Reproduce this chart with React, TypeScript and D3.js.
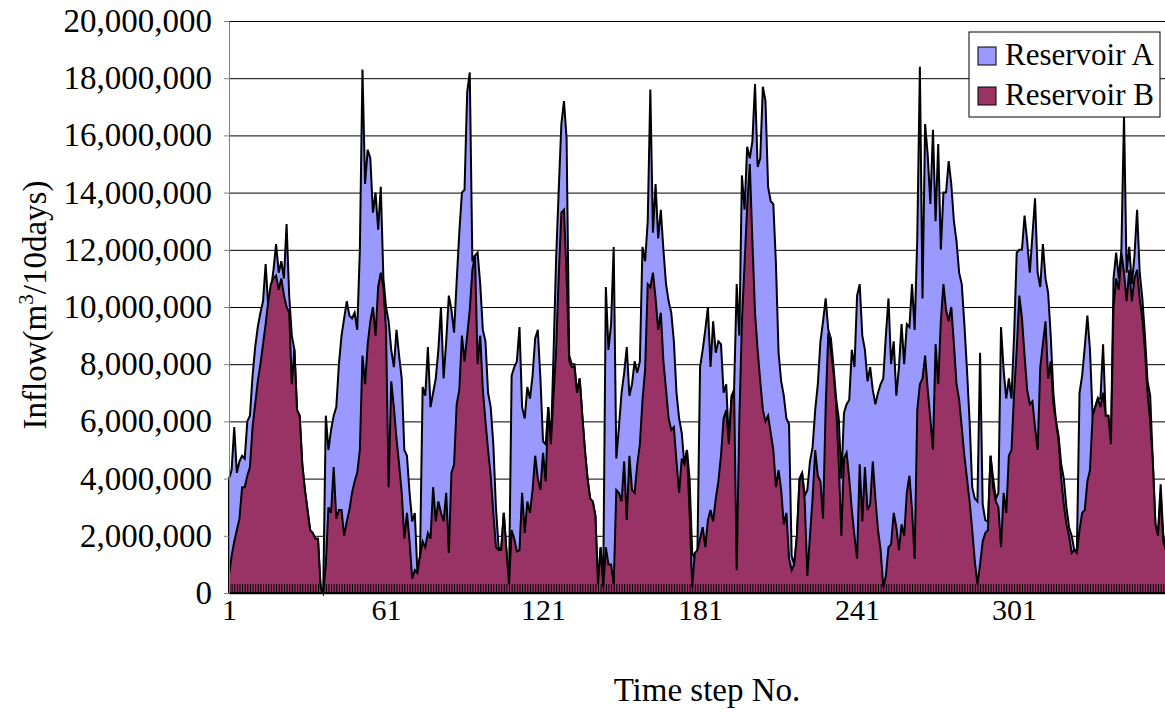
import React, { useEffect, useRef } from 'react';
import * as d3 from 'd3';

// inflow per 10-day step, in million m3
const reservoirA = [
  4.0, 4.3, 5.8, 4.2, 4.6, 4.8, 4.7, 6.0, 6.2, 7.6, 8.6, 9.3, 9.8, 10.2, 11.5, 10.0, 10.6, 11.3, 12.2, 11.2, 11.6, 11.0, 12.9, 10.4, 9.0, 8.5, 6.4, 6.2, 4.5, 3.6, 2.9, 2.2, 2.1, 1.9, 1.9, 0.2,
  0, 6.2, 5.0, 5.7, 6.2, 6.5, 8.0, 9.0, 9.6, 10.2, 9.7, 9.6, 9.8, 9.2, 12.0, 18.3, 14.3, 15.5, 15.2, 13.3, 14.0, 12.7, 14.2, 11.0, 10.0, 9.5, 8.5, 7.9, 9.2, 8.3, 7.5, 5.0, 4.8, 3.5, 2.5, 2.8,
  0.7, 1.3, 7.2, 6.9, 8.6, 6.5, 7.0, 7.5, 8.5, 10.0, 7.5, 8.8, 10.4, 9.9, 9.1, 10.9, 12.6, 14.0, 14.1, 17.5, 18.2, 11.6, 11.8, 11.9, 10.8, 9.2, 8.8, 7.0, 6.5, 5.2, 3.0, 1.6, 1.5, 2.8, 1.5, 0.3,
  7.6, 7.9, 8.1, 9.3, 6.5, 6.1, 7.2, 6.8, 7.6, 8.9, 9.2, 7.5, 5.3, 5.2, 6.5, 5.2, 8.3, 11.7, 14.1, 16.4, 17.2, 15.9, 8.3, 8.0, 8.0, 7.0, 7.5, 6.2, 5.0, 4.0, 3.3, 3.2, 2.7, 0.3, 1.6, 0.4,
  10.7, 8.5, 9.4, 12.1, 4.7, 5.8, 7.0, 7.7, 8.6, 6.9, 7.3, 8.1, 7.7, 8.1, 12.1, 11.6, 13.0, 17.6, 12.6, 14.3, 12.4, 13.4, 12.0, 10.8, 10.2, 9.8, 8.8, 7.0, 6.1, 5.6, 4.5, 5.0, 4.0, 1.4, 1.2, 1.5,
  7.9, 8.5, 9.2, 10.0, 7.9, 9.5, 8.4, 8.8, 8.7, 7.0, 7.3, 5.3, 6.9, 7.1, 10.8, 9.0, 14.6, 13.4, 15.6, 15.2, 15.8, 17.8, 14.9, 15.2, 17.7, 17.2, 14.2, 13.7, 13.6, 11.5, 8.4, 7.4, 6.9, 6.1, 5.9, 1.3,
  1.0, 2.0, 4.0, 4.2, 3.4, 3.6, 4.6, 5.1, 6.4, 7.3, 8.8, 9.5, 10.3, 9.2, 8.9, 7.9, 6.8, 6.1, 4.0, 6.3, 6.6, 6.75, 8.5, 7.9, 10.4, 10.8, 9.0, 8.5, 7.4, 7.9, 7.1, 6.6, 7.0, 7.3, 7.5, 9.0,
  10.3, 8.0, 8.8, 6.9, 7.9, 9.4, 8.0, 9.4, 9.3, 10.8, 9.2, 12.4, 18.4, 10.3, 16.4, 15.3, 13.6, 16.2, 13.0, 15.7, 12.0, 14.0, 14.0, 15.1, 14.3, 13.0, 12.3, 11.2, 10.8, 9.4, 7.8, 6.0, 3.7, 3.3, 3.2, 8.4,
  3.1, 2.55, 2.5, 4.8, 4.0, 3.3, 3.5, 9.3, 7.8, 6.8, 7.5, 6.8, 9.0, 11.9, 12.0, 12.0, 13.2, 12.3, 11.2, 12.5, 13.8, 11.2, 10.7, 12.2, 11.0, 10.5, 9.0, 7.0, 6.0, 5.5, 4.5, 4.0, 3.0, 2.3, 2.0, 1.5,
  1.5, 7.0, 7.6, 8.6, 9.7, 8.5, 6.2, 6.5, 6.8, 6.8, 8.7, 6.2, 6.2, 5.2, 11.0, 11.9, 11.0, 12.0, 16.7, 11.2, 12.1, 10.8, 11.8, 13.4, 11.2, 10.3, 9.0, 7.4, 6.9, 4.6, 2.4, 2.1, 3.8, 2.0, 1.6, 1.4,
];

const reservoirB = [
  0.6, 1.3, 1.8, 2.2, 2.6, 3.7, 3.7, 4.1, 4.4, 5.8, 6.6, 7.4, 8.0, 8.7, 9.4, 10.2, 10.8, 11.0, 11.1, 10.6, 11.0, 10.4, 10.0, 9.8, 7.3, 8.5, 6.4, 6.2, 4.5, 3.6, 2.9, 2.2, 2.1, 1.9, 1.9, 0.2,
  0, 1.0, 3.0, 2.8, 4.4, 2.6, 2.9, 2.9, 2.0, 2.5, 2.9, 3.5, 3.9, 4.2, 5.0, 8.3, 7.3, 8.7, 9.5, 10.0, 9.0, 10.7, 11.2, 10.7, 9.2, 3.7, 7.4, 6.5, 5.4, 4.5, 3.5, 1.9, 2.8, 1.8, 0.5, 0.8,
  0.7, 1.3, 1.8, 1.6, 2.1, 1.9, 3.7, 2.5, 3.2, 2.8, 2.5, 3.5, 1.4, 4.2, 4.5, 6.6, 7.1, 9.0, 8.1, 9.0, 9.9, 11.3, 11.8, 8.0, 9.0, 7.1, 6.0, 5.0, 4.1, 2.8, 1.6, 1.5, 1.5, 2.8, 1.5, 0.3,
  2.2, 1.9, 1.45, 1.5, 3.5, 2.1, 3.2, 2.8, 3.6, 4.8, 4.0, 3.6, 4.9, 3.9, 6.5, 5.2, 6.9, 8.5, 11.1, 13.3, 13.4, 11.1, 8.1, 7.9, 7.9, 7.0, 7.5, 6.2, 5.0, 4.0, 3.3, 3.2, 2.7, 0.3, 1.6, 0.2,
  1.6, 1.0, 1.0, 0.3, 3.6, 3.5, 3.2, 4.6, 2.55, 4.8, 3.6, 3.5, 4.5, 5.2, 6.75, 7.8, 10.8, 10.7, 11.2, 10.3, 9.2, 9.8, 8.1, 7.1, 6.1, 5.7, 5.8, 4.6, 3.5, 4.7, 4.5, 5.0, 2.8, 0.2, 1.4, 1.5,
  1.9, 2.3, 1.6, 2.55, 2.9, 2.5, 3.3, 3.9, 4.8, 6.1, 6.4, 5.2, 6.75, 7.1, 0.8, 6.0, 9.5, 11.5, 13.5, 15.0, 12.3, 9.8, 8.5, 7.4, 6.4, 6.0, 6.2, 5.6, 5.0, 3.7, 4.3, 3.6, 2.4, 2.8, 1.2, 0.8,
  1.0, 2.0, 3.9, 4.2, 3.2, 0.6, 2.0, 3.3, 5.0, 4.1, 3.9, 2.6, 6.5, 9.1, 8.5, 7.7, 6.6, 4.5, 2.0, 4.7, 4.9, 4.0, 2.9, 2.0, 1.2, 4.5, 2.5, 4.4, 2.9, 3.1, 4.6, 3.3, 2.2, 1.5, 0.2, 0.6,
  1.6, 1.7, 2.8, 2.3, 1.5, 2.4, 2.0, 3.5, 4.1, 2.9, 1.2, 6.4, 7.3, 7.5, 8.3, 7.1, 6.1, 5.0, 8.7, 7.3, 9.5, 10.8, 9.9, 9.5, 10.0, 8.7, 7.3, 6.75, 5.8, 4.8, 4.0, 3.2, 2.2, 1.1, 0.3, 1.0,
  1.8, 2.1, 2.2, 4.8, 3.7, 3.2, 3.0, 1.6, 3.5, 2.8, 4.8, 5.0, 7.0, 8.5, 10.4, 9.6, 8.3, 7.1, 6.6, 6.7, 5.8, 5.0, 7.9, 8.7, 9.5, 7.5, 8.1, 6.6, 6.0, 5.3, 4.0, 3.1, 2.4, 2.0, 1.4, 1.5,
  1.4, 2.2, 2.8, 2.9, 3.9, 4.3, 6.2, 6.5, 6.8, 6.5, 7.0, 6.2, 6.2, 5.2, 10.0, 11.0, 10.6, 11.9, 11.2, 10.2, 11.3, 10.2, 11.0, 11.3, 10.3, 9.6, 8.5, 7.0, 6.0, 4.6, 2.4, 2.0, 3.5, 1.8, 1.5, 1.3,
];

const yTicks = [0, 2e6, 4e6, 6e6, 8e6, 10e6, 12e6, 14e6, 16e6, 18e6, 20e6];
const xTickLabels = [1, 61, 121, 181, 241, 301];
const seriesNames = ['Reservoir A', 'Reservoir B'];
const seriesColors = ['#9999ff', '#993366'];

const FONT = "'Liberation Serif', 'Times New Roman', serif";

function InflowChart() {
  const ref = useRef<SVGSVGElement>(null);

  useEffect(() => {
    const svg = d3.select(ref.current);
    svg.selectAll('*').remove();

    const left = 229;
    const top = 21;
    const bottom = 593;
    const right = 1168.5;
    const steps = d3.range(1, reservoirA.length + 1);

    const x = d3.scaleLinear().domain([1, reservoirA.length]).range([left, right]);
    const y = d3.scaleLinear().domain([0, 20e6]).range([bottom, top]);

    // gridlines
    svg.append('g')
      .attr('transform', `translate(${left},0)`)
      .call(d3.axisLeft(y).tickValues(yTicks.slice(1)).tickSize(-(right - left)).tickFormat(() => ''))
      .call(g => g.select('.domain').remove())
      .selectAll('line').attr('stroke', '#000');

    const area = d3.area<number>()
      .x((_, i) => x(i + 1))
      .y0(y(0))
      .y1(d => y(d * 1e6));

    [reservoirA, reservoirB].forEach((data, k) => {
      svg.append('path')
        .datum(data)
        .attr('fill', seriesColors[k])
        .attr('stroke', '#000')
        .attr('stroke-width', 2)
        .attr('d', area);
    });

    // category ticks along the bottom
    svg.append('g')
      .attr('transform', `translate(0,${bottom})`)
      .call(d3.axisBottom(x).tickValues(steps).tickSize(-9).tickFormat(() => ''))
      .call(g => g.select('.domain').attr('stroke', '#000').attr('stroke-width', 1.5))
      .selectAll('line').attr('stroke', '#000');

    svg.append('g')
      .attr('transform', `translate(0,${bottom})`)
      .call(d3.axisBottom(x).tickValues(xTickLabels).tickSize(0).tickPadding(6).tickFormat(d3.format('d')))
      .call(g => g.select('.domain').remove())
      .selectAll('text')
      .attr('font-family', FONT)
      .attr('font-size', 30)
      .attr('fill', '#000');

    // value axis
    svg.append('g')
      .attr('transform', `translate(${left},0)`)
      .call(d3.axisLeft(y).tickValues(yTicks).tickSize(5).tickPadding(12).tickFormat(d3.format(',')))
      .call(g => g.select('.domain').attr('stroke', '#808080'))
      .call(g => g.selectAll('line').attr('stroke', '#808080'))
      .selectAll('text')
      .attr('font-family', FONT)
      .attr('font-size', 33)
      .attr('fill', '#000');

    svg.append('text')
      .attr('x', 707)
      .attr('y', 701)
      .attr('text-anchor', 'middle')
      .attr('font-family', FONT)
      .attr('font-size', 33)
      .text('Time step No.');

    const yTitle = svg.append('text')
      .attr('transform', 'translate(46,305) rotate(-90)')
      .attr('text-anchor', 'middle')
      .attr('font-family', FONT)
      .attr('font-size', 33);
    yTitle.append('tspan').text('Inflow(m');
    yTitle.append('tspan').attr('dy', -13).attr('font-size', 21).text('3');
    yTitle.append('tspan').attr('dy', 13).text('/10days)');

    // legend
    const lg = svg.append('g').attr('transform', 'translate(969,32)');
    lg.append('rect')
      .attr('width', 191).attr('height', 85)
      .attr('fill', '#fff').attr('stroke', '#000');
    seriesNames.forEach((name, k) => {
      lg.append('rect')
        .attr('x', 9).attr('y', 15 + k * 40)
        .attr('width', 18).attr('height', 18)
        .attr('fill', seriesColors[k]).attr('stroke', '#000');
      lg.append('text')
        .attr('x', 36).attr('y', 33 + k * 40)
        .attr('font-family', FONT)
        .attr('font-size', 31)
        .text(name);
    });
  }, []);

  return (
    <svg ref={ref} width={1165} height={713} style={{ position: 'absolute', left: 0, top: 0, background: '#fff' }} />
  );
}

export default function App() {
  return <InflowChart />;
}
